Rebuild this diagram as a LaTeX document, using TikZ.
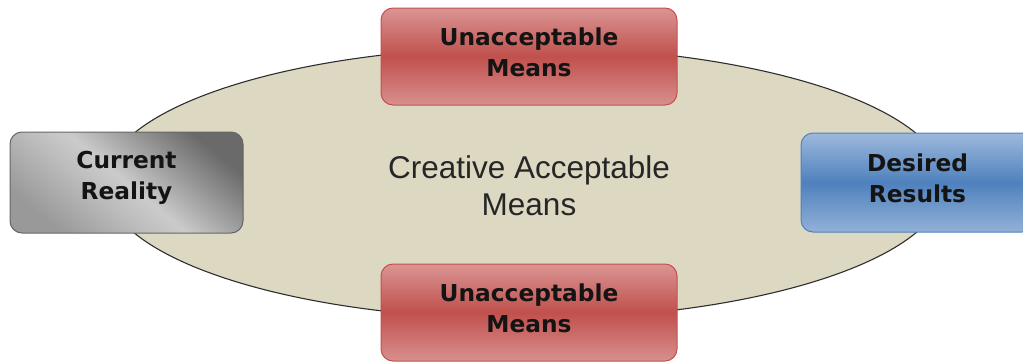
\documentclass[tikz,border=0pt]{standalone}
\usepackage{fontspec}
\setmainfont{DejaVu Sans}
\newfontfamily\plainfont{Liberation Sans}
\usetikzlibrary{shapes.geometric}

\definecolor{ovalfill}{HTML}{DDD8C2}
\definecolor{ovaledge}{HTML}{2E2E2E}
\definecolor{redlight}{HTML}{DA9593}
\definecolor{redmid}{HTML}{C0504D}
\definecolor{rededge}{HTML}{C4504D}
\definecolor{bluelight}{HTML}{9DB9DC}
\definecolor{bluemid}{HTML}{4F81BD}
\definecolor{blueedge}{HTML}{4F81BD}
\definecolor{greyedge}{HTML}{666666}
\definecolor{metA}{HTML}{999999}
\definecolor{metB}{HTML}{BDBDBD}
\definecolor{metC}{HTML}{CBCBCB}
\definecolor{metD}{HTML}{ABABAB}
\definecolor{metE}{HTML}{6A6A6A}

% brushed-metal style gradient for the grey box
\pgfdeclarehorizontalshading{metal}{100bp}{%
  color(0bp)=(metA); color(25bp)=(metA); color(42bp)=(metB);
  color(50bp)=(metC); color(58bp)=(metD); color(75bp)=(metE);
  color(100bp)=(metE)}

\tikzset{
  box/.style={rectangle, rounded corners=12pt, line width=1pt},
  boxtext/.style={align=center, inner sep=0pt, text=black!92,
    font=\fontsize{23.3}{31}\selectfont\bfseries},
  redbox/.style={box, draw=rededge, top color=redlight,
    bottom color=redlight!92!redmid, middle color=redmid,
    minimum width=296pt, minimum height=97pt},
  bluebox/.style={box, draw=blueedge, top color=bluelight,
    bottom color=bluelight!85!bluemid, middle color=bluemid,
    minimum width=233pt, minimum height=99pt},
  greybox/.style={box, draw=greyedge, shading=metal, shading angle=50,
    minimum width=233pt, minimum height=101pt},
  oval/.style={ellipse, draw=ovaledge, fill=ovalfill, line width=1.1pt,
    minimum width=840pt, minimum height=272pt, inner sep=0pt},
  ovaltext/.style={align=center,
    font=\plainfont\fontsize{31.5}{37}\selectfont, text=black!85}
}

\begin{document}
\begin{tikzpicture}[x=1pt, y=-1pt]
  \useasboundingbox (0,0) rectangle (1023,362);

  % central region of acceptable means
  \node[oval] (oval) at (525,183) {};
  \node[ovaltext] (creative) at (529,186) {Creative Acceptable\\Means};

  % boundaries above and below
  \node[redbox] (topmeans) at (529,56.5) {};
  \node[boxtext] (topmeanstext) at (529,52) {Unacceptable\\Means};
  \node[redbox] (botmeans) at (529,312.5) {};
  \node[boxtext] (botmeanstext) at (529,308) {Unacceptable\\Means};

  % start and goal
  \node[greybox] (current) at (126.5,182.5) {};
  \node[boxtext] (currenttext) at (126.5,178) {Current\\Reality};
  \node[bluebox] (desired) at (917.5,182.5) {};
  \node[boxtext] (desiredtext) at (917.5,178) {Desired\\Results};
\end{tikzpicture}
\end{document}
